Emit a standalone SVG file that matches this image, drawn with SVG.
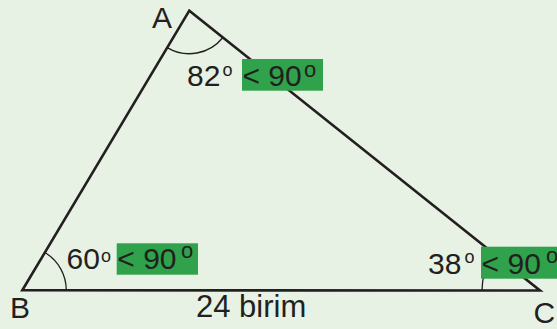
<svg xmlns="http://www.w3.org/2000/svg" width="557" height="329" viewBox="0 0 557 329">
<style>
text{font-family:"Liberation Sans",Arial,sans-serif;fill:#231f20}
.t{font-size:30px}
.s{font-size:18px}
.s2{font-size:22px}
.box{fill:#2fa24b}
.side{stroke:#231f20;stroke-width:2.6;fill:none}
.arc{stroke:#231f20;stroke-width:1.3;fill:none}
</style>
<rect width="557" height="329" fill="#e7f2e5"/>
<g id="connectors">
<polygon class="side" points="189.3,10.7 22.3,290.3 540,290.5"/>
</g>
<g id="A">
<path class="arc" d="M167.2,47.6 A43,43 0 0 0 222.9,37.5"/>
<text class="t" x="152" y="27.5">A</text>
<text class="t" x="187" y="86">82</text>
<text class="s" x="222.5" y="76">o</text>
<rect class="box" x="242" y="59" width="81" height="31.7"/>
<text class="t" x="242.5" y="85.5">&lt; 90</text>
<text class="s2" x="304" y="76.5">o</text>
</g>
<g id="B">
<path class="arc" d="M44.9,252.5 A44,44 0 0 1 66.3,290.3"/>
<text class="t" x="10" y="318">B</text>
<text class="t" x="66.5" y="269">60</text>
<text class="s" x="101" y="262">o</text>
<rect class="box" x="116.7" y="243.3" width="81.3" height="31.4"/>
<text class="t" x="117.3" y="269">&lt; 90</text>
<text class="s2" x="181" y="258.3">o</text>
</g>
<g id="C">
<path class="arc" d="M494.7,254.3 A58,58 0 0 0 482,290.5"/>
<text class="t" x="533.5" y="323">C</text>
<text class="t" x="428" y="274.3">38</text>
<text class="s" x="464.5" y="263.3">o</text>
<rect class="box" x="481" y="246.7" width="76" height="32"/>
<text class="t" x="481.6" y="274.3">&lt; 90</text>
<text class="s2" x="546" y="263.3">o</text>
</g>
<g id="side-BC">
<text class="t" x="196" y="317.3" style="font-size:31px">24 birim</text>
</g>
</svg>
